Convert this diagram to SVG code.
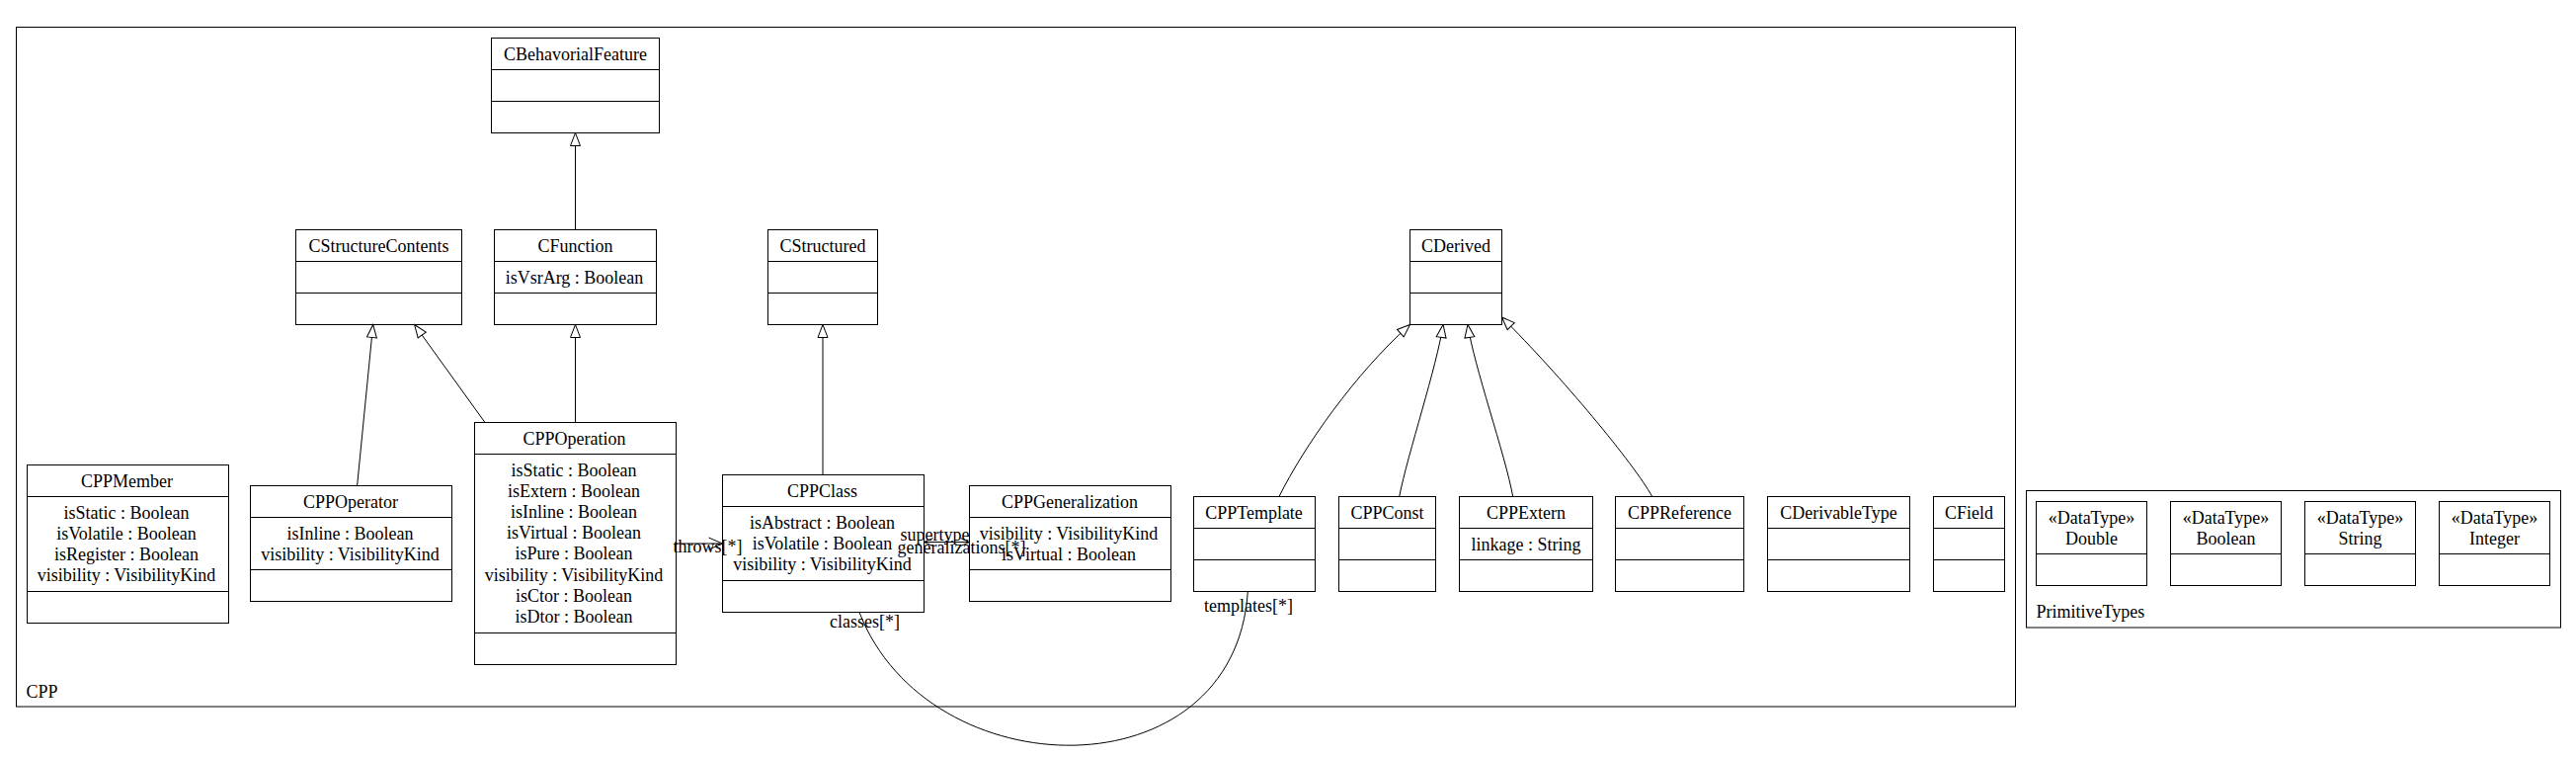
<svg xmlns="http://www.w3.org/2000/svg" width="2608" height="767" viewBox="0 0 2608 767">
<style>
.b{fill:#fff;stroke:#000;stroke-width:1}
.f{fill:none;stroke:#000;stroke-width:1}
.s{stroke:#000;stroke-width:1}
.e{fill:none;stroke:#000;stroke-width:1}
text{font-family:"Liberation Serif","Times New Roman",serif;font-size:18px;fill:#000}
.c{text-anchor:middle}
</style>
<defs>
<marker id="gen" viewBox="0 0 15 12" refX="14" refY="6" markerWidth="15" markerHeight="12" markerUnits="userSpaceOnUse" orient="auto"><path d="M1,1 L14,6 L1,11 Z" fill="#fff" stroke="#000" stroke-width="1"/></marker>
<marker id="open" viewBox="0 0 16 14" refX="15" refY="7" markerWidth="16" markerHeight="14" markerUnits="userSpaceOnUse" orient="auto"><path d="M1,1 L15,7 L1,13" fill="none" stroke="#000" stroke-width="1"/></marker>
<marker id="open2" viewBox="0 0 11 10" refX="10" refY="5" markerWidth="11" markerHeight="10" markerUnits="userSpaceOnUse" orient="auto-start-reverse"><path d="M1,1 L10,5 L1,9" fill="none" stroke="#000" stroke-width="1"/></marker>
</defs>
<rect x="0" y="0" width="2608" height="767" fill="#fff"/>
<g id="pkg-CPP">
<rect class="f" x="16.5" y="27.5" width="2024" height="687.5"/>
<text x="26.5" y="706">CPP</text>
</g>
<g id="pkg-PrimitiveTypes">
<rect class="f" x="2051.5" y="496.5" width="541" height="138.5"/>
<text x="2061.5" y="625">PrimitiveTypes</text>
</g>
<g id="CBehavioralFeature">
<rect class="b" x="497.5" y="38.5" width="170" height="96"/>
<line class="s" x1="497.5" y1="70.5" x2="667.5" y2="70.5"/>
<line class="s" x1="497.5" y1="102.5" x2="667.5" y2="102.5"/>
<text class="c" x="582.5" y="60.5">CBehavorialFeature</text>
</g>
<g id="CStructureContents">
<rect class="b" x="299.5" y="232.5" width="168" height="96"/>
<line class="s" x1="299.5" y1="264.5" x2="467.5" y2="264.5"/>
<line class="s" x1="299.5" y1="296.5" x2="467.5" y2="296.5"/>
<text class="c" x="383.5" y="254.5">CStructureContents</text>
</g>
<g id="CFunction">
<rect class="b" x="500.5" y="232.5" width="164" height="96"/>
<line class="s" x1="500.5" y1="264.5" x2="664.5" y2="264.5"/>
<line class="s" x1="500.5" y1="296.5" x2="664.5" y2="296.5"/>
<text class="c" x="582.5" y="254.5">CFunction</text>
<text class="c" x="581.5" y="286.5">isVsrArg : Boolean</text>
</g>
<g id="CStructured">
<rect class="b" x="777.5" y="232.5" width="111" height="96"/>
<line class="s" x1="777.5" y1="264.5" x2="888.5" y2="264.5"/>
<line class="s" x1="777.5" y1="296.5" x2="888.5" y2="296.5"/>
<text class="c" x="833" y="254.5">CStructured</text>
</g>
<g id="CDerived">
<rect class="b" x="1427.5" y="232.5" width="93" height="96"/>
<line class="s" x1="1427.5" y1="264.5" x2="1520.5" y2="264.5"/>
<line class="s" x1="1427.5" y1="296.5" x2="1520.5" y2="296.5"/>
<text class="c" x="1474" y="254.5">CDerived</text>
</g>
<g id="CPPMember">
<rect class="b" x="27.5" y="470.5" width="204" height="160"/>
<line class="s" x1="27.5" y1="502.5" x2="231.5" y2="502.5"/>
<line class="s" x1="27.5" y1="598.5" x2="231.5" y2="598.5"/>
<text class="c" x="128.5" y="492.5">CPPMember</text>
<text class="c" x="128" y="524.5">isStatic : Boolean</text>
<text class="c" x="128" y="545.7">isVolatile : Boolean</text>
<text class="c" x="128" y="566.9">isRegister : Boolean</text>
<text class="c" x="128" y="588.1">visibility : VisibilityKind</text>
</g>
<g id="CPPOperator">
<rect class="b" x="253.5" y="491.5" width="204" height="117"/>
<line class="s" x1="253.5" y1="523.5" x2="457.5" y2="523.5"/>
<line class="s" x1="253.5" y1="576.5" x2="457.5" y2="576.5"/>
<text class="c" x="355" y="513.5">CPPOperator</text>
<text class="c" x="354.5" y="545.5">isInline : Boolean</text>
<text class="c" x="354.5" y="566.7">visibility : VisibilityKind</text>
</g>
<g id="CPPOperation">
<rect class="b" x="480.5" y="427.5" width="204" height="245"/>
<line class="s" x1="480.5" y1="459.5" x2="684.5" y2="459.5"/>
<line class="s" x1="480.5" y1="640.5" x2="684.5" y2="640.5"/>
<text class="c" x="581.5" y="449.5">CPPOperation</text>
<text class="c" x="581" y="481.5">isStatic : Boolean</text>
<text class="c" x="581" y="502.7">isExtern : Boolean</text>
<text class="c" x="581" y="523.9">isInline : Boolean</text>
<text class="c" x="581" y="545.1">isVirtual : Boolean</text>
<text class="c" x="581" y="566.3">isPure : Boolean</text>
<text class="c" x="581" y="587.5">visibility : VisibilityKind</text>
<text class="c" x="581" y="608.7">isCtor : Boolean</text>
<text class="c" x="581" y="629.9">isDtor : Boolean</text>
</g>
<g id="CPPClass">
<rect class="b" x="731.5" y="480.5" width="204" height="139"/>
<line class="s" x1="731.5" y1="512.5" x2="935.5" y2="512.5"/>
<line class="s" x1="731.5" y1="587.5" x2="935.5" y2="587.5"/>
<text class="c" x="832.5" y="502.5">CPPClass</text>
<text class="c" x="832.5" y="534.5">isAbstract : Boolean</text>
<text class="c" x="832.5" y="555.7">isVolatile : Boolean</text>
<text class="c" x="832.5" y="576.9">visibility : VisibilityKind</text>
</g>
<g id="CPPGeneralization">
<rect class="b" x="981.5" y="491.5" width="204" height="117"/>
<line class="s" x1="981.5" y1="523.5" x2="1185.5" y2="523.5"/>
<line class="s" x1="981.5" y1="576.5" x2="1185.5" y2="576.5"/>
<text class="c" x="1083" y="513.5">CPPGeneralization</text>
<text class="c" x="1082" y="545.5">visibility : VisibilityKind</text>
<text class="c" x="1082" y="566.7">isVirtual : Boolean</text>
</g>
<g id="CPPTemplate">
<rect class="b" x="1208.5" y="502.5" width="123" height="96"/>
<line class="s" x1="1208.5" y1="534.5" x2="1331.5" y2="534.5"/>
<line class="s" x1="1208.5" y1="566.5" x2="1331.5" y2="566.5"/>
<text class="c" x="1269.5" y="524.5">CPPTemplate</text>
</g>
<g id="CPPConst">
<rect class="b" x="1355.5" y="502.5" width="98" height="96"/>
<line class="s" x1="1355.5" y1="534.5" x2="1453.5" y2="534.5"/>
<line class="s" x1="1355.5" y1="566.5" x2="1453.5" y2="566.5"/>
<text class="c" x="1404.5" y="524.5">CPPConst</text>
</g>
<g id="CPPExtern">
<rect class="b" x="1477.5" y="502.5" width="135" height="96"/>
<line class="s" x1="1477.5" y1="534.5" x2="1612.5" y2="534.5"/>
<line class="s" x1="1477.5" y1="566.5" x2="1612.5" y2="566.5"/>
<text class="c" x="1545" y="524.5">CPPExtern</text>
<text class="c" x="1545" y="556.5">linkage : String</text>
</g>
<g id="CPPReference">
<rect class="b" x="1635.5" y="502.5" width="130" height="96"/>
<line class="s" x1="1635.5" y1="534.5" x2="1765.5" y2="534.5"/>
<line class="s" x1="1635.5" y1="566.5" x2="1765.5" y2="566.5"/>
<text class="c" x="1700.5" y="524.5">CPPReference</text>
</g>
<g id="CDerivableType">
<rect class="b" x="1789.5" y="502.5" width="144" height="96"/>
<line class="s" x1="1789.5" y1="534.5" x2="1933.5" y2="534.5"/>
<line class="s" x1="1789.5" y1="566.5" x2="1933.5" y2="566.5"/>
<text class="c" x="1861.5" y="524.5">CDerivableType</text>
</g>
<g id="CField">
<rect class="b" x="1957.5" y="502.5" width="72" height="96"/>
<line class="s" x1="1957.5" y1="534.5" x2="2029.5" y2="534.5"/>
<line class="s" x1="1957.5" y1="566.5" x2="2029.5" y2="566.5"/>
<text class="c" x="1993.5" y="524.5">CField</text>
</g>
<g id="Double">
<rect class="b" x="2061.5" y="507.5" width="112" height="85"/>
<line class="s" x1="2061.5" y1="560.5" x2="2173.5" y2="560.5"/>
<text class="c" x="2117.5" y="529.5">«DataType»</text>
<text class="c" x="2117.5" y="550.7">Double</text>
</g>
<g id="Boolean">
<rect class="b" x="2197.5" y="507.5" width="112" height="85"/>
<line class="s" x1="2197.5" y1="560.5" x2="2309.5" y2="560.5"/>
<text class="c" x="2253.5" y="529.5">«DataType»</text>
<text class="c" x="2253.5" y="550.7">Boolean</text>
</g>
<g id="String">
<rect class="b" x="2333.5" y="507.5" width="112" height="85"/>
<line class="s" x1="2333.5" y1="560.5" x2="2445.5" y2="560.5"/>
<text class="c" x="2389.5" y="529.5">«DataType»</text>
<text class="c" x="2389.5" y="550.7">String</text>
</g>
<g id="Integer">
<rect class="b" x="2469.5" y="507.5" width="112" height="85"/>
<line class="s" x1="2469.5" y1="560.5" x2="2581.5" y2="560.5"/>
<text class="c" x="2525.5" y="529.5">«DataType»</text>
<text class="c" x="2525.5" y="550.7">Integer</text>
</g>
<g id="connectors">
<path class="e" d="M582.5,232.5 L582.5,134.5" marker-end="url(#gen)"/>
<path class="e" d="M582.5,427.5 L582.5,328.5" marker-end="url(#gen)"/>
<path class="e" d="M361.6,491.5 L377.7,328.5" marker-end="url(#gen)"/>
<path class="e" d="M491,427.5 L419.6,328.5" marker-end="url(#gen)"/>
<path class="e" d="M833,480.5 L833,328.5" marker-end="url(#gen)"/>
<path class="e" d="M1295,502.5 C1320,452 1372,378 1427.5,328.5" marker-end="url(#gen)"/>
<path class="e" d="M1416.7,502.5 C1425,460 1455,370 1461,328.5" marker-end="url(#gen)"/>
<path class="e" d="M1531.7,502.5 C1524,460 1492,370 1486,328.5" marker-end="url(#gen)"/>
<path class="e" d="M1672.7,502.5 C1655,470 1580,380 1520.5,321" marker-end="url(#gen)"/>
<path class="e" d="M684.5,550 L731.5,550" marker-end="url(#open)"/>
<text x="681.5" y="558.5">throws[*]</text>
<path class="e" d="M935.5,548.5 L981.5,548.5" marker-start="url(#open2)" marker-end="url(#open2)"/>
<text x="911.5" y="547">supertype</text>
<text x="908.5" y="560">generalizations[*]</text>
<path class="e" d="M870,619.5 C940,800 1250,805 1263.3,598.5"/>
<text x="840" y="634.5">classes[*]</text>
<text x="1219" y="618.5">templates[*]</text>
</g>
</svg>
